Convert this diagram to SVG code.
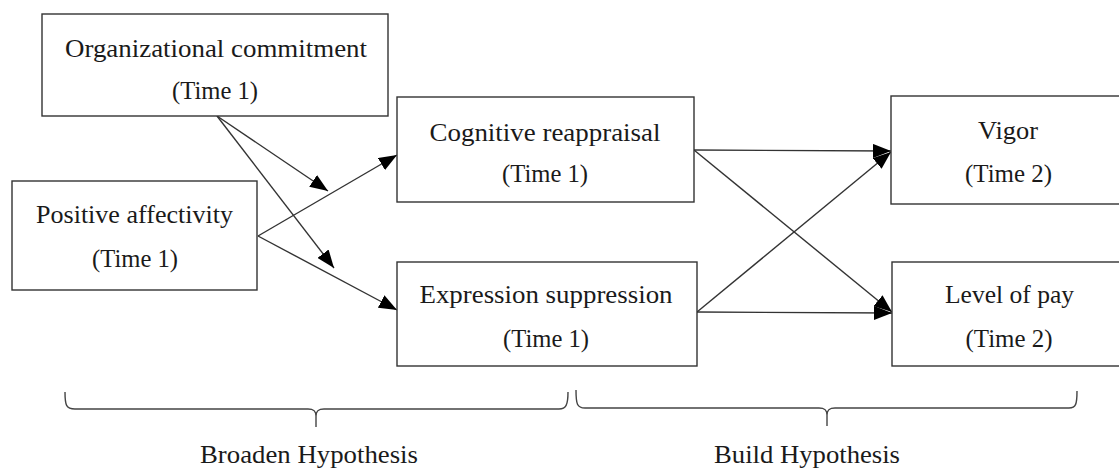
<svg xmlns="http://www.w3.org/2000/svg" width="1119" height="471" viewBox="0 0 1119 471">
  <style>
    .box { fill: #ffffff; stroke: #333333; stroke-width: 1.4; }
    .lbl { font-family: "Liberation Serif", "Times New Roman", serif; font-size: 25px; fill: #1a1a1a; text-anchor: middle; }
    .edge { fill: none; stroke: #333333; stroke-width: 1.4; marker-end: url(#arrow); }
    .brace { fill: none; stroke: #444444; stroke-width: 1.4; }
  </style>
  <defs>
    <marker id="arrow" markerUnits="userSpaceOnUse" markerWidth="20" markerHeight="14" refX="18" refY="7" orient="auto">
      <path d="M0,0 L18,7 L0,14 z" fill="#000000"/>
    </marker>
  </defs>
  <rect width="1119" height="471" fill="#ffffff"/>

  <g id="connectors">
    <line class="edge" x1="217" y1="116" x2="328" y2="191"/>
    <line class="edge" x1="217" y1="116" x2="334" y2="268"/>
    <line class="edge" x1="258" y1="236" x2="397" y2="155"/>
    <line class="edge" x1="258" y1="236" x2="397" y2="310"/>
    <line class="edge" x1="694" y1="150" x2="891" y2="151"/>
    <line class="edge" x1="694" y1="150" x2="892" y2="312"/>
    <line class="edge" x1="697" y1="312" x2="892" y2="313"/>
    <line class="edge" x1="697" y1="312" x2="891" y2="152"/>
  </g>

  <g id="node-org">
    <rect class="box" x="42" y="14" width="346" height="102"/>
    <text class="lbl" x="216" y="57" textLength="302" lengthAdjust="spacingAndGlyphs">Organizational commitment</text>
    <text class="lbl" x="215" y="99" textLength="86" lengthAdjust="spacingAndGlyphs">(Time 1)</text>
  </g>

  <g id="node-pa">
    <rect class="box" x="12" y="181" width="245" height="109"/>
    <text class="lbl" x="134.5" y="223" textLength="197" lengthAdjust="spacingAndGlyphs">Positive affectivity</text>
    <text class="lbl" x="135" y="267" textLength="86" lengthAdjust="spacingAndGlyphs">(Time 1)</text>
  </g>

  <g id="node-cog">
    <rect class="box" x="397" y="97" width="297" height="105"/>
    <text class="lbl" x="545" y="141" textLength="231" lengthAdjust="spacingAndGlyphs">Cognitive reappraisal</text>
    <text class="lbl" x="545" y="182" textLength="86" lengthAdjust="spacingAndGlyphs">(Time 1)</text>
  </g>

  <g id="node-expr">
    <rect class="box" x="397" y="262" width="300" height="104"/>
    <text class="lbl" x="546" y="302.5" textLength="253" lengthAdjust="spacingAndGlyphs">Expression suppression</text>
    <text class="lbl" x="546" y="346.5" textLength="86" lengthAdjust="spacingAndGlyphs">(Time 1)</text>
  </g>

  <g id="node-vigor">
    <rect class="box" x="891" y="96" width="240" height="108"/>
    <text class="lbl" x="1008" y="139" textLength="60" lengthAdjust="spacingAndGlyphs">Vigor</text>
    <text class="lbl" x="1008.5" y="182" textLength="87" lengthAdjust="spacingAndGlyphs">(Time 2)</text>
  </g>

  <g id="node-pay">
    <rect class="box" x="892" y="262" width="240" height="104"/>
    <text class="lbl" x="1009.5" y="302.5" textLength="129" lengthAdjust="spacingAndGlyphs">Level of pay</text>
    <text class="lbl" x="1009" y="346.5" textLength="87" lengthAdjust="spacingAndGlyphs">(Time 2)</text>
  </g>

  <g id="brace-broaden">
    <path class="brace" d="M65,392 C65,405 66,409 75,409 L308,409 C314,409 316,411 316,416 L316,427 M316,416 C316,411 318,409 324,409 L559,409 C566,409 568,405 568,392"/>
    <text class="lbl" x="309" y="463" textLength="218" lengthAdjust="spacingAndGlyphs">Broaden Hypothesis</text>
  </g>

  <g id="brace-build">
    <path class="brace" d="M576,390 C576,404 577,408 585,408 L819,408 C825,408 827,410 827,415 L827,426 M827,415 C827,410 829,408 835,408 L1069,408 C1076,408 1077,404 1077,391"/>
    <text class="lbl" x="807" y="463" textLength="186" lengthAdjust="spacingAndGlyphs">Build Hypothesis</text>
  </g>
</svg>
